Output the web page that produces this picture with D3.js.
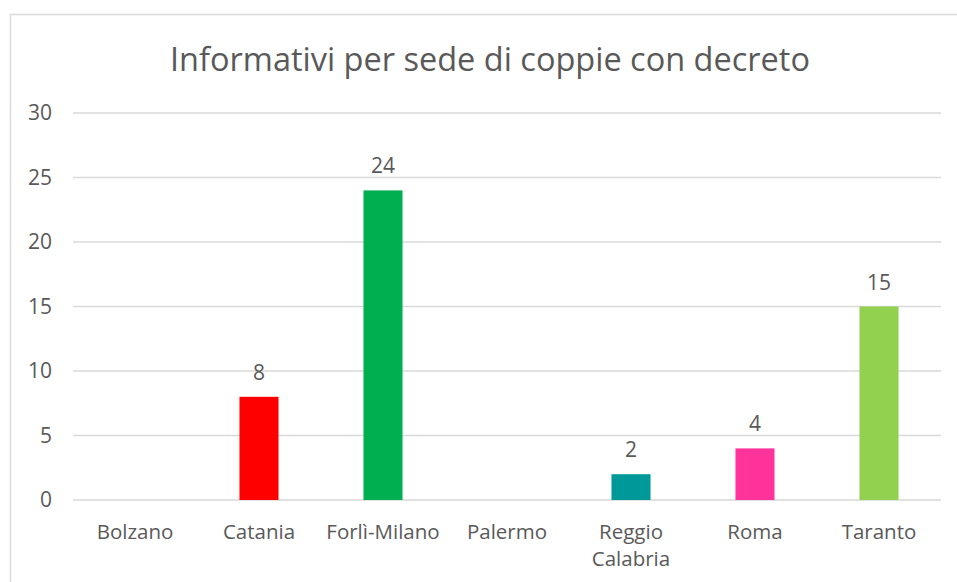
<!DOCTYPE html>
<html>
<head>
    <title></title>
    <meta charset="utf-8">
    <style>
        body { margin: 0; background: #fff; }
        text { font-family: 'Open Sans', 'Noto Sans', sans-serif; fill: #595959; }
    </style>
</head>
<body>
<script src="https://d3js.org/d3.v7.min.js"></script>
<script>
    var sedi = ['Bolzano', 'Catania', 'Forlì-Milano', 'Palermo', 'Reggio Calabria', 'Roma', 'Taranto'];
    var informativi = [null, 8, 24, null, 2, 4, 15];
    var colori = ['#4472C4', '#FF0000', '#00B050', '#7030A0', '#009999', '#FF3399', '#92D050'];
    var yTicks = [0, 5, 10, 15, 20, 25, 30];
    var titolo = 'Informativi per sede di coppie con decreto';

    var W = 957, H = 582;
    var plot = { left: 73, right: 941, top: 113, bottom: 500 };

    var svg = d3.select('body').append('svg')
        .attr('width', W)
        .attr('height', H);

    // chart frame (right/bottom edges fall outside the picture)
    svg.append('rect')
        .attr('x', 10.5).attr('y', 14.5)
        .attr('width', 990).attr('height', 600)
        .attr('fill', 'none')
        .attr('stroke', '#d9d9d9')
        .attr('stroke-width', 1.5);

    var x = d3.scaleBand()
        .domain(sedi)
        .range([plot.left, plot.right])
        .paddingInner(0.685)
        .paddingOuter(0.3425);

    var y = d3.scaleLinear()
        .domain([0, 30])
        .range([plot.bottom, plot.top]);

    svg.append('text')
        .attr('x', 490)
        .attr('y', 71)
        .attr('text-anchor', 'middle')
        .style('font-size', '32.5px')
        .text(titolo);

    // gridlines
    svg.append('g').selectAll('line').data(yTicks).enter()
        .append('line')
        .attr('x1', plot.left).attr('x2', plot.right)
        .attr('y1', function (d) { return y(d); })
        .attr('y2', function (d) { return y(d); })
        .attr('stroke', '#d9d9d9')
        .attr('stroke-width', 1.5);

    // y tick labels
    svg.append('g').selectAll('text').data(yTicks).enter()
        .append('text')
        .attr('x', 52)
        .attr('y', function (d) { return y(d); })
        .attr('dy', '0.35em')
        .attr('text-anchor', 'end')
        .style('font-size', '21px')
        .text(function (d) { return d; });

    var dati = sedi.map(function (s, i) { return { sede: s, v: informativi[i], c: colori[i] }; });

    svg.append('g').selectAll('rect').data(dati.filter(function (d) { return d.v != null; })).enter()
        .append('rect')
        .attr('x', function (d) { return x(d.sede); })
        .attr('width', x.bandwidth())
        .attr('y', function (d) { return y(d.v); })
        .attr('height', function (d) { return y(0) - y(d.v); })
        .attr('fill', function (d) { return d.c; });

    // data labels
    svg.append('g').selectAll('text').data(dati.filter(function (d) { return d.v != null; })).enter()
        .append('text')
        .attr('x', function (d) { return x(d.sede) + x.bandwidth() / 2; })
        .attr('y', function (d) { return y(d.v) - 17; })
        .attr('text-anchor', 'middle')
        .style('font-size', '21px')
        .text(function (d) { return d.v; });

    // category labels (wrap on spaces like Excel)
    var cat = svg.append('g').selectAll('text').data(sedi).enter()
        .append('text')
        .attr('x', function (d) { return x(d) + x.bandwidth() / 2; })
        .attr('y', 539)
        .attr('text-anchor', 'middle')
        .style('font-size', '20.5px');

    cat.each(function (d) {
        var parts = d.indexOf(' ') > 0 ? d.split(' ') : [d];
        var t = d3.select(this);
        parts.forEach(function (p, i) {
            t.append('tspan')
                .attr('x', x(d) + x.bandwidth() / 2)
                .attr('dy', i === 0 ? 0 : 27)
                .text(p);
        });
    });
</script>
</body>
</html>
